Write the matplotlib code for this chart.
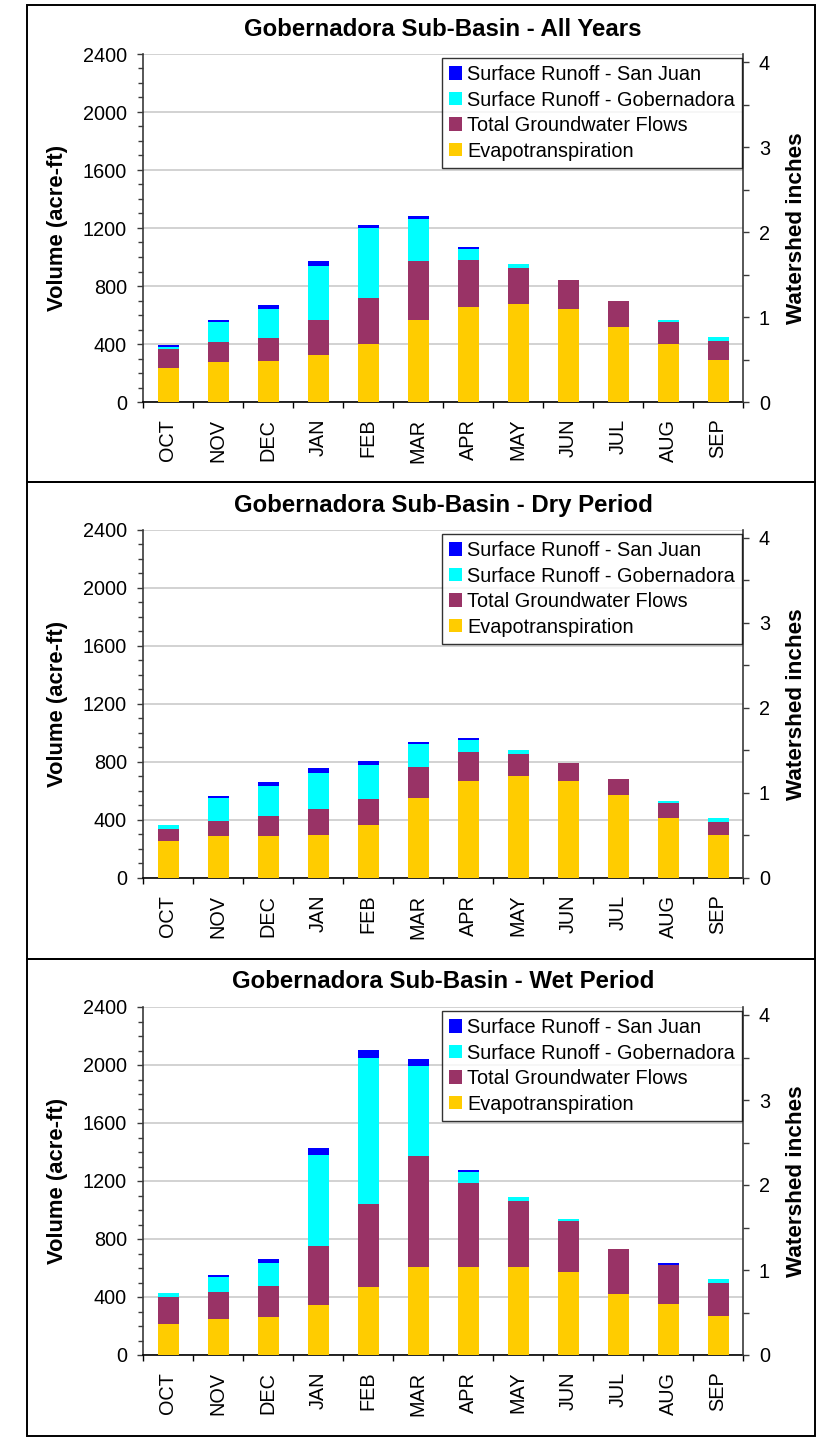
import matplotlib

matplotlib.use("Agg")
import matplotlib.pyplot as plt
from matplotlib.patches import Rectangle, Patch
from matplotlib.ticker import MultipleLocator, FixedLocator, NullFormatter

plt.rcParams["font.family"] = ["Liberation Sans", "DejaVu Sans"]

# ---- data (acre-ft, stacked components) ----------------------------------
months = ["OCT", "NOV", "DEC", "JAN", "FEB", "MAR",
          "APR", "MAY", "JUN", "JUL", "AUG", "SEP"]
series_names = ["Evapotranspiration", "Total Groundwater Flows",
                "Surface Runoff - Gobernadora", "Surface Runoff - San Juan"]
titles = ["Gobernadora Sub-Basin - All Years",
          "Gobernadora Sub-Basin - Dry Period",
          "Gobernadora Sub-Basin - Wet Period"]

all_et = [232, 273, 280, 322, 397, 563, 652, 673, 638, 514, 397, 287]
all_gw = [131, 138, 159, 241, 317, 406, 324, 248, 200, 180, 152, 131]
all_gob = [14, 138, 199, 372, 483, 290, 76, 28, 0, 0, 14, 28]
all_sj = [16, 14, 28, 34, 27, 27, 14, 0, 0, 0, 0, 0]

dry_et = [257, 292, 292, 299, 367, 553, 671, 705, 671, 574, 416, 299]
dry_gw = [83, 103, 137, 179, 180, 214, 199, 152, 124, 110, 103, 89]
dry_gob = [27, 158, 207, 248, 234, 159, 83, 27, 0, 0, 14, 28]
dry_sj = [0, 14, 28, 34, 27, 13, 14, 0, 0, 0, 0, 0]

wet_et = [214, 248, 262, 345, 469, 606, 606, 606, 572, 420, 351, 269]
wet_gw = [186, 186, 213, 406, 571, 765, 579, 455, 351, 310, 269, 227]
wet_gob = [27, 103, 159, 627, 1006, 620, 76, 28, 14, 0, 0, 28]
wet_sj = [0, 14, 27, 48, 56, 49, 14, 0, 0, 0, 14, 0]

panels = [(all_et, all_gw, all_gob, all_sj),
          (dry_et, dry_gw, dry_gob, dry_sj),
          (wet_et, wet_gw, wet_gob, wet_sj)]

# ---- style ---------------------------------------------------------------
COLORS = ["#FFCC00", "#993366", "#00FFFF", "#0000FF"]
GRID = "#CFCFCF"
SPINE = "#3A3A3A"

W, H = 817, 1438
fig = plt.figure(figsize=(W / 100, H / 100), dpi=100)

AX_L, AX_R = 143, 743
AX_TOPS = [54, 530, 1007]
AX_H = 348
BORDERS = [5, 482, 959, 1436]
INCH_TOP = 4 * 348 / 340


def fx(px):
    return px / W


def fy(py):
    return 1 - py / H


# panel frames
for k in range(3):
    fig.add_artist(Rectangle((fx(27), fy(BORDERS[k + 1])), fx(815) - fx(27),
                             fy(BORDERS[k]) - fy(BORDERS[k + 1]),
                             transform=fig.transFigure, fill=False,
                             edgecolor="black", linewidth=1.4, zorder=0))

x = list(range(len(months)))
for k, (et, gw, gob, sj) in enumerate(panels):
    top = AX_TOPS[k]
    ax = fig.add_axes((fx(AX_L), fy(top + AX_H), fx(AX_R - AX_L), AX_H / H))
    ax.set_xlim(-0.5, 11.5)
    ax.set_ylim(0, 2400)
    ax.set_axisbelow(True)

    bottom = [0] * len(months)
    handles = []
    for vals, col, name in zip((et, gw, gob, sj), COLORS, series_names):
        ax.bar(x, vals, width=0.42, bottom=bottom, color=col, linewidth=0, zorder=3)
        bottom = [b + v for b, v in zip(bottom, vals)]
        handles.append(Patch(facecolor=col, edgecolor="none", label=name))

    ax.yaxis.set_major_locator(MultipleLocator(400))
    ax.yaxis.set_minor_locator(MultipleLocator(100))
    ax.grid(axis="y", which="major", color=GRID, linewidth=1.3)
    ax.set_xticks(x)
    ax.set_xticklabels(months, rotation=90)
    ax.xaxis.set_minor_locator(FixedLocator([i - 0.5 for i in range(13)]))
    ax.tick_params(axis="x", which="major", length=0, pad=12, labelsize=14.3)
    ax.tick_params(axis="x", which="minor", length=4.5, width=1.0, color="black")
    ax.tick_params(axis="y", which="major", length=4.5, width=1.0, pad=7,
                   labelsize=14.3, color=SPINE)
    ax.tick_params(axis="y", which="minor", length=3.6, width=1.0, color=SPINE)
    for s in ("top", "right"):
        ax.spines[s].set_visible(False)
    ax.spines["left"].set_color(SPINE)
    ax.spines["bottom"].set_color("black")
    ax.spines["left"].set_linewidth(1.2)
    ax.spines["bottom"].set_linewidth(1.2)

    ax2 = ax.twinx()
    ax2.set_ylim(0, INCH_TOP)
    ax2.yaxis.set_major_locator(MultipleLocator(1))
    ax2.yaxis.set_minor_locator(MultipleLocator(0.5))
    ax2.yaxis.set_minor_formatter(NullFormatter())
    ax2.tick_params(axis="y", which="major", length=4.5, width=1.0, pad=7,
                    labelsize=14.3, color=SPINE)
    ax2.tick_params(axis="y", which="minor", length=4.5, width=1.0, color=SPINE)
    for s in ("top", "left", "bottom"):
        ax2.spines[s].set_visible(False)
    ax2.spines["right"].set_color(SPINE)
    ax2.spines["right"].set_linewidth(1.2)

    leg = ax2.legend(handles[::-1], [h.get_label() for h in handles[::-1]],
                     loc="upper right", bbox_to_anchor=(fx(742), fy(top + 4)),
                     bbox_transform=fig.transFigure, borderaxespad=0,
                     fontsize=14.3, frameon=True, fancybox=False,
                     handlelength=0.65, handleheight=0.65, handletextpad=0.25,
                     labelspacing=0.33, borderpad=0.35)
    leg.get_frame().set_edgecolor("black")
    leg.get_frame().set_linewidth(1.0)

    fig.text(fx(443), fy(top - 25), titles[k], ha="center", va="center",
             fontsize=17.3, fontweight="bold")
    fig.text(fx(57), fy(top + AX_H / 2), "Volume (acre-ft)", ha="center",
             va="center", rotation=90, fontsize=15.8, fontweight="bold")
    fig.text(fx(796), fy(top + AX_H / 2), "Watershed inches", ha="center",
             va="center", rotation=90, fontsize=16.2, fontweight="bold")

fig.savefig("out.png", dpi=100)
